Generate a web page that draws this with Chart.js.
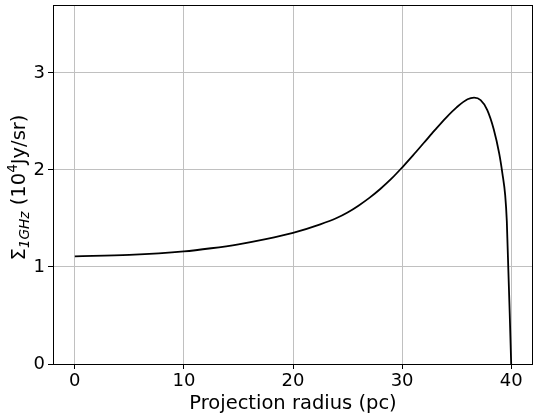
<!DOCTYPE html>
<html>
<head>
<meta charset="utf-8">
<script src="https://cdn.jsdelivr.net/npm/chart.js@4"></script>
<style>
html,body{margin:0;padding:0;background:#fff;}
#wrap{width:534px;height:420px;position:relative;}
</style>
</head>
<body>
<div id="wrap"><canvas id="c" width="534" height="420"></canvas></div>
<script>
// Data
const radius = [0, 5, 10, 12.5, 15, 17.5, 20, 22.5, 24, 25, 26, 27, 28, 29, 30, 31, 32, 33, 34, 35, 36, 36.6, 37.2, 37.8, 38.4, 38.9, 39.2, 39.45, 39.6, 40];
const brightness = [1.11, 1.124, 1.16, 1.193, 1.234, 1.287, 1.352, 1.44, 1.505, 1.562, 1.632, 1.712, 1.804, 1.907, 2.025, 2.15, 2.28, 2.41, 2.535, 2.645, 2.728, 2.745, 2.72, 2.62, 2.42, 2.17, 1.96, 1.74, 1.47, 0];
const xTicks = [0, 10, 20, 30, 40];
const yTicks = [0, 1, 2, 3];
const xLabel = 'Projection radius (pc)';
const yLabelParts = [
  {t: 'Σ', scale: 1, italic: false, dy: 0},
  {t: '1GHz', scale: 0.7, italic: true, dy: 0.2},
  {t: ' (10', scale: 1, italic: false, dy: 0},
  {t: '4', scale: 0.7, italic: false, dy: -0.42},
  {t: 'Jy/sr)', scale: 1, italic: false, dy: 0}
];

const FONT = 'DejaVu Sans';
const TICK_SIZE = 18;
const LABEL_SIZE = 19.5;

const points = radius.map((r, i) => ({x: r, y: brightness[i]}));

const frame = {
  id: 'frame',
  afterDraw(chart) {
    const a = chart.chartArea, ctx = chart.ctx;
    ctx.save();
    ctx.strokeStyle = '#000';
    ctx.lineWidth = 1;
    ctx.strokeRect(Math.round(a.left) + 0.5, Math.round(a.top) + 0.5, Math.round(a.right - a.left) - 1, Math.round(a.bottom - a.top));
    // y title with sub/superscript
    let total = 0;
    const parts = yLabelParts.map(p => {
      const f = (p.italic ? 'italic ' : '') + (LABEL_SIZE * p.scale) + 'px "' + FONT + '"';
      ctx.font = f;
      const w = ctx.measureText(p.t).width;
      total += w;
      return {...p, f, w};
    });
    const cy = (a.top + a.bottom) / 2 + 3;
    ctx.translate(25, cy);
    ctx.rotate(-Math.PI / 2);
    ctx.fillStyle = '#000';
    ctx.textBaseline = 'alphabetic';
    ctx.textAlign = 'left';
    let x = -total / 2;
    parts.forEach(p => {
      ctx.font = p.f;
      ctx.fillText(p.t, x, p.dy * LABEL_SIZE);
      x += p.w;
    });
    ctx.restore();
  }
};

new Chart(document.getElementById('c'), {
  type: 'scatter',
  data: {
    datasets: [{
      data: points,
      showLine: true,
      borderColor: '#000',
      borderWidth: 1.8,
      pointRadius: 0,
      cubicInterpolationMode: 'monotone',
      fill: false
    }]
  },
  options: {
    responsive: false,
    animation: false,
    layout: {padding: {top: 5, right: 1, left: 0, bottom: 0}},
    plugins: {legend: {display: false}, tooltip: {enabled: false}},
    scales: {
      x: {
        type: 'linear',
        min: -2, max: 42,
        afterBuildTicks(s) { s.ticks = xTicks.map(v => ({value: v})); },
        afterFit(s) { s.height = 56; s.paddingLeft = 0; s.paddingRight = 0; },
        grid: {color: '#c0c0c0', lineWidth: 1, tickColor: '#000', tickLength: 5, drawOnChartArea: true},
        border: {display: false},
        ticks: {color: '#000', font: {family: FONT, size: TICK_SIZE}, padding: 2, maxRotation: 0, autoSkip: false},
        title: {display: true, text: xLabel, color: '#000', font: {family: FONT, size: LABEL_SIZE}, padding: {top: 0, bottom: 4}}
      },
      y: {
        type: 'linear',
        min: 0, max: 3.7,
        afterBuildTicks(s) { s.ticks = yTicks.map(v => ({value: v})); },
        afterFit(s) { s.width = 53; s.paddingTop = 0; s.paddingBottom = 0; },
        grid: {color: '#c0c0c0', lineWidth: 1, tickColor: '#000', tickLength: 5},
        border: {display: false},
        ticks: {color: '#000', font: {family: FONT, size: TICK_SIZE}, padding: 3, autoSkip: false}
      }
    }
  },
  plugins: [frame]
});
</script>
</body>
</html>
